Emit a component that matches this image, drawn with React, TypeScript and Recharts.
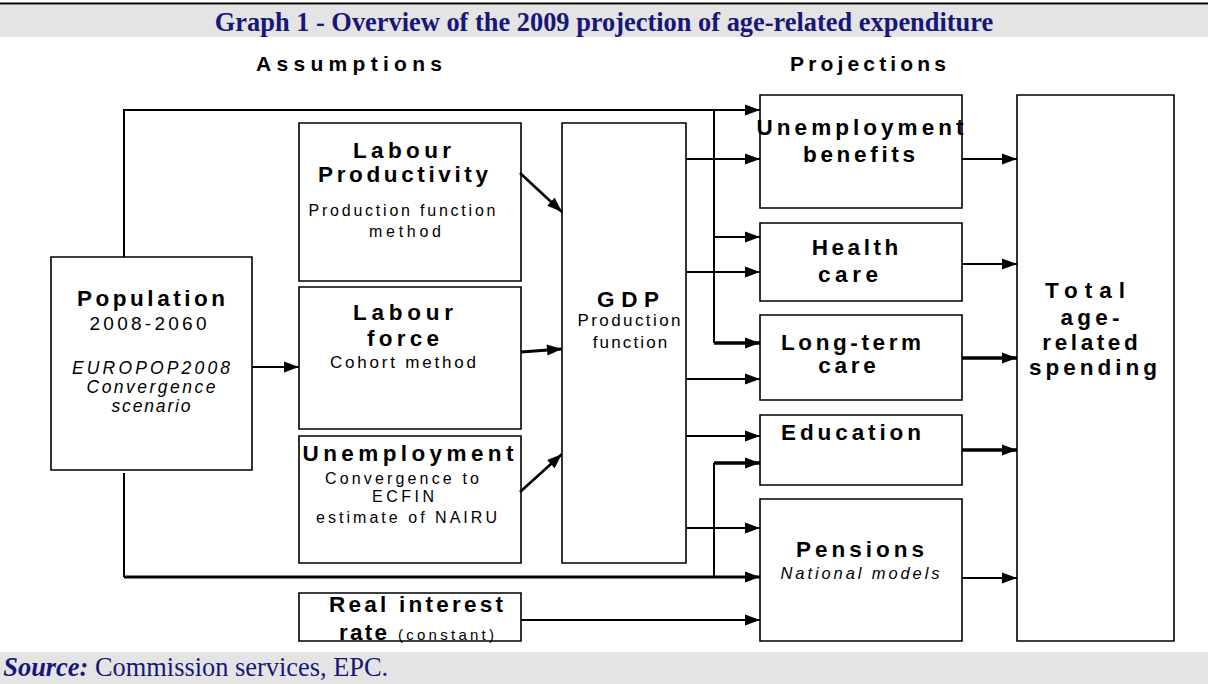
import React from 'react';
import { ComposedChart, XAxis, YAxis, ReferenceArea, Line, Scatter } from 'recharts';

const W = 1208;
const H = 684;

const TITLE = 'Graph 1 - Overview of the 2009 projection of age-related expenditure';
const SOURCE_LEAD = 'Source:';
const SOURCE_TEXT = 'Commission services, EPC.';

// Diagram boxes in diagram units (x1, y1, x2, y2)
const boxes = [
  { id: 'population', x1: 51, y1: 257, x2: 252, y2: 470 },
  { id: 'labourProductivity', x1: 299, y1: 123, x2: 521, y2: 281 },
  { id: 'labourForce', x1: 299, y1: 287, x2: 521, y2: 429 },
  { id: 'unemployment', x1: 299, y1: 436, x2: 521, y2: 563 },
  { id: 'realInterest', x1: 299, y1: 593, x2: 521, y2: 641 },
  { id: 'gdp', x1: 562, y1: 123, x2: 686, y2: 563 },
  { id: 'benefits', x1: 760, y1: 95, x2: 962, y2: 208 },
  { id: 'health', x1: 760, y1: 223, x2: 962, y2: 301 },
  { id: 'longTerm', x1: 760, y1: 315, x2: 962, y2: 400 },
  { id: 'education', x1: 760, y1: 415, x2: 962, y2: 485 },
  { id: 'pensions', x1: 760, y1: 499, x2: 962, y2: 641 },
  { id: 'total', x1: 1017, y1: 95, x2: 1174, y2: 641 },
];

const bands = [
  { id: 'titleBand', x1: 0, y1: 5, x2: 1208, y2: 37 },
  { id: 'sourceBand', x1: 0, y1: 652, x2: 1208, y2: 684 },
];

const topRule = [{ x: 0, y: 3.5 }, { x: 1208, y: 3.5 }];

// Connectors: polylines, optional arrow head at the end
const connectors = [
  { id: 'popTop', pts: [[124, 257], [124, 110], [760, 110]], w: 2, arrow: true },
  { id: 'busTop', pts: [[714, 110], [714, 343]], w: 2, arrow: false },
  { id: 'busLtc', pts: [[714, 343], [760, 343]], w: 3.5, arrow: true },
  { id: 'busHealth', pts: [[714, 237], [760, 237]], w: 2.2, arrow: true },
  { id: 'gdpBenefits', pts: [[686, 159], [760, 159]], w: 2.2, arrow: true },
  { id: 'gdpHealth', pts: [[686, 272], [760, 272]], w: 2.2, arrow: true },
  { id: 'gdpLtc', pts: [[686, 379], [760, 379]], w: 2.2, arrow: true },
  { id: 'gdpEdu', pts: [[686, 436], [760, 436]], w: 2.2, arrow: true },
  { id: 'gdpPensions', pts: [[686, 528], [760, 528]], w: 2.2, arrow: true },
  { id: 'popBottomV', pts: [[124, 473], [124, 577]], w: 2, arrow: false },
  { id: 'popBottomH', pts: [[124, 577], [760, 577]], w: 2.8, arrow: true },
  { id: 'busBottom', pts: [[714, 577], [714, 463]], w: 2, arrow: false },
  { id: 'busEdu', pts: [[714, 463], [760, 463]], w: 3.5, arrow: true },
  { id: 'realPensions', pts: [[521, 620], [760, 620]], w: 2.2, arrow: true },
  { id: 'lpGdp', pts: [[520, 173], [562, 212]], w: 2.6, arrow: true },
  { id: 'lfGdp', pts: [[521, 352], [562, 349]], w: 3.2, arrow: true },
  { id: 'unGdp', pts: [[520, 492], [562, 454]], w: 2.6, arrow: true },
  { id: 'popLf', pts: [[252, 367], [299, 367]], w: 2.2, arrow: true },
  { id: 'benTotal', pts: [[962, 159], [1017, 159]], w: 2.2, arrow: true },
  { id: 'healthTotal', pts: [[962, 264], [1017, 264]], w: 2.2, arrow: true },
  { id: 'ltcTotal', pts: [[962, 358], [1017, 358]], w: 3.5, arrow: true },
  { id: 'eduTotal', pts: [[962, 450], [1017, 450]], w: 3.5, arrow: true },
  { id: 'pensionsTotal', pts: [[962, 578], [1017, 578]], w: 2.2, arrow: true },
];

// Text lines: centre x, baseline y, measured width, kind
const labels = [
  { text: 'Assumptions', x: 349, y: 71, w: 186, kind: 'header' },
  { text: 'Projections', x: 868, y: 71, w: 156, kind: 'header' },
  { text: 'Population', x: 151, y: 306, w: 148, kind: 'head' },
  { text: '2008-2060', x: 148, y: 330, w: 117, kind: 'year' },
  { text: 'EUROPOP2008', x: 151, y: 373.5, w: 158, kind: 'ital' },
  { text: 'Convergence', x: 151, y: 393, w: 129, kind: 'ital' },
  { text: 'scenario', x: 151, y: 412, w: 79, kind: 'ital' },
  { text: 'Labour', x: 402, y: 158, w: 98, kind: 'head' },
  { text: 'Productivity', x: 403, y: 181.5, w: 170, kind: 'head' },
  { text: 'Production function', x: 402, y: 216, w: 187, kind: 'sub' },
  { text: 'method', x: 405, y: 236.5, w: 72, kind: 'sub' },
  { text: 'Labour', x: 403, y: 320, w: 100, kind: 'head' },
  { text: 'force', x: 403, y: 346, w: 72, kind: 'head' },
  { text: 'Cohort method', x: 403, y: 368, w: 146, kind: 'sub16' },
  { text: 'Unemployment', x: 408, y: 461, w: 211, kind: 'head' },
  { text: 'Convergence to', x: 402, y: 484, w: 154, kind: 'sub' },
  { text: 'ECFIN', x: 403, y: 501.5, w: 62, kind: 'sub' },
  { text: 'estimate of NAIRU', x: 406.5, y: 523, w: 181, kind: 'sub' },
  { text: 'Real interest', x: 416, y: 612.3, w: 174, kind: 'head' },
  { text: 'rate', x: 363, y: 640, w: 48, kind: 'head' },
  { text: '(constant)', x: 446, y: 640, w: 96, kind: 'small' },
  { text: 'GDP', x: 628, y: 306.7, w: 62, kind: 'head' },
  { text: 'Production', x: 629, y: 326, w: 103, kind: 'sub16' },
  { text: 'function', x: 630, y: 347.7, w: 74.5, kind: 'sub16' },
  { text: 'Unemployment', x: 860, y: 135, w: 207, kind: 'head' },
  { text: 'benefits', x: 859, y: 161.7, w: 112, kind: 'head' },
  { text: 'Health', x: 855, y: 255, w: 86.5, kind: 'head' },
  { text: 'care', x: 848, y: 281.7, w: 60, kind: 'head' },
  { text: 'Long-term', x: 851, y: 350, w: 140, kind: 'head' },
  { text: 'care', x: 847, y: 372.7, w: 57.6, kind: 'head' },
  { text: 'Education', x: 851, y: 440, w: 140, kind: 'head' },
  { text: 'Pensions', x: 860, y: 557.3, w: 128, kind: 'head' },
  { text: 'National models', x: 860, y: 579.3, w: 159, kind: 'ital16' },
  { text: 'Total', x: 1085, y: 298.3, w: 80, kind: 'head' },
  { text: 'age-', x: 1090, y: 325, w: 59, kind: 'head' },
  { text: 'related', x: 1090, y: 350, w: 95.5, kind: 'head' },
  { text: 'spending', x: 1093, y: 375, w: 128, kind: 'head' },
];

const titlePos = { x: 604, y: 31 };
const sourcePos = { x: 3.3, y: 676 };

const SANS = "'Liberation Sans', Arial, sans-serif";
const SERIF = "'Liberation Serif', 'Times New Roman', serif";
const NAVY = '#17177a';

const KIND: Record<string, { size: number; weight: string; style: string }> = {
  header: { size: 21, weight: 'bold', style: 'normal' },
  head: { size: 22.5, weight: 'bold', style: 'normal' },
  year: { size: 19, weight: 'normal', style: 'normal' },
  ital: { size: 17.5, weight: 'normal', style: 'italic' },
  ital16: { size: 16.5, weight: 'normal', style: 'italic' },
  sub: { size: 16, weight: 'normal', style: 'normal' },
  sub16: { size: 17, weight: 'normal', style: 'normal' },
  small: { size: 15, weight: 'normal', style: 'normal' },
};

const lineData = connectors.map((c) => ({
  ...c,
  data: c.pts.map(([x, y]) => ({ x, y })),
}));

const arrowData = connectors
  .filter((c) => c.arrow)
  .map((c) => {
    const n = c.pts.length;
    const [x0, y0] = c.pts[n - 2];
    const [x1, y1] = c.pts[n - 1];
    return { x: x1, y: y1, angle: (Math.atan2(y1 - y0, x1 - x0) * 180) / Math.PI };
  });

const TextShape = (props: any) => {
  const { cx, cy, payload } = props;
  const st = KIND[payload.kind];
  return (
    <text
      x={cx}
      y={cy}
      textAnchor="middle"
      textLength={payload.w}
      lengthAdjust="spacing"
      fontFamily={SANS}
      fontSize={st.size}
      fontWeight={st.weight}
      fontStyle={st.style}
      fill="#000"
    >
      {payload.text}
    </text>
  );
};

const ArrowShape = (props: any) => {
  const { cx, cy, payload } = props;
  return (
    <polygon
      points="0,0 -15,-5.5 -15,5.5"
      transform={`translate(${cx},${cy}) rotate(${payload.angle})`}
      fill="#000"
    />
  );
};

const TitleLabel = () => (
  <text
    x={titlePos.x}
    y={titlePos.y}
    textAnchor="middle"
    fontFamily={SERIF}
    fontWeight="bold"
    fontSize={26.4}
    fill={NAVY}
  >
    {TITLE}
  </text>
);

const SourceLabel = () => (
  <text x={sourcePos.x} y={sourcePos.y} fontFamily={SERIF} fontSize={26.4} fill={NAVY}>
    <tspan fontWeight="bold" fontStyle="italic">{SOURCE_LEAD}</tspan>
    <tspan>{' ' + SOURCE_TEXT}</tspan>
  </text>
);

export default function App() {
  return (
    <div style={{ position: 'absolute', left: 0, top: 0, width: W, height: H, background: '#fff' }}>
      <ComposedChart width={W} height={H} margin={{ top: 0, right: 0, bottom: 0, left: 0 }}>
        <XAxis type="number" dataKey="x" domain={[0, W]} allowDataOverflow hide />
        <YAxis type="number" dataKey="y" domain={[0, H]} allowDataOverflow reversed hide />
        {bands.map((b) => (
          <ReferenceArea
            key={b.id}
            x1={b.x1}
            x2={b.x2}
            y1={b.y1}
            y2={b.y2}
            fill="#e4e4e4"
            fillOpacity={1}
            stroke="none"
            ifOverflow="visible"
            label={b.id === 'titleBand' ? () => <TitleLabel /> : () => <SourceLabel />}
          />
        ))}
        {boxes.map((b) => (
          <ReferenceArea
            key={b.id}
            x1={b.x1}
            x2={b.x2}
            y1={b.y1}
            y2={b.y2}
            fill="none"
            fillOpacity={0}
            stroke="#000"
            strokeWidth={1.6}
            strokeOpacity={1}
            ifOverflow="visible"
          />
        ))}
        <Line
          data={topRule}
          dataKey="y"
          stroke="#000"
          strokeWidth={2}
          dot={false}
          activeDot={false}
          isAnimationActive={false}
          legendType="none"
        />
        {lineData.map((c) => (
          <Line
            key={c.id}
            data={c.data}
            dataKey="y"
            type="linear"
            stroke="#000"
            strokeWidth={c.w}
            strokeLinejoin="miter"
            dot={false}
            activeDot={false}
            isAnimationActive={false}
            legendType="none"
          />
        ))}
        <Scatter data={arrowData} dataKey="y" shape={ArrowShape} isAnimationActive={false} legendType="none" />
        <Scatter data={labels} dataKey="y" shape={TextShape} isAnimationActive={false} legendType="none" />
      </ComposedChart>
    </div>
  );
}
